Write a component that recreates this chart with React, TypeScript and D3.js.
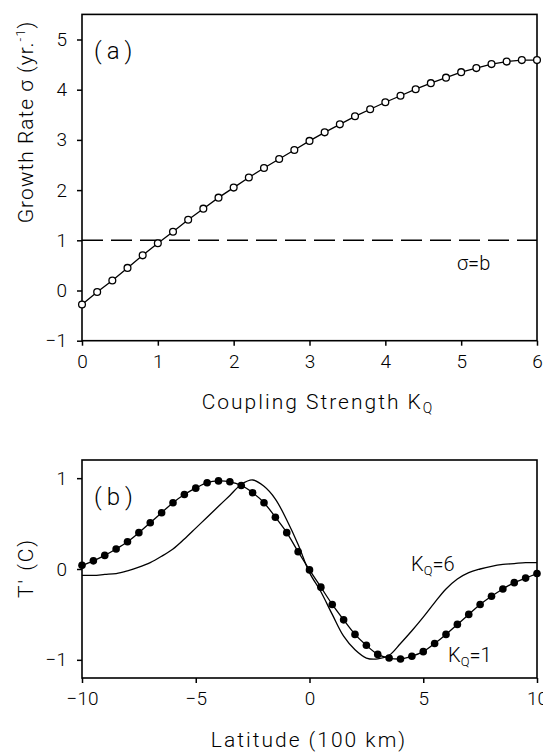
import React, { useEffect, useRef } from 'react';
import * as d3 from 'd3';

// panel (a): growth rate vs coupling strength
const couplingK = d3.range(0, 6.01, 0.2).map(v => +v.toFixed(1));
const growthRate = [
  -0.28, -0.03, 0.2, 0.45, 0.7, 0.94, 1.17, 1.41, 1.63, 1.85, 2.05,
  2.25, 2.44, 2.62, 2.8, 2.98, 3.15, 3.31, 3.47, 3.61, 3.75,
  3.88, 4.01, 4.13, 4.24, 4.35, 4.43, 4.51, 4.56, 4.59, 4.59,
];
const growthRef = 1; // sigma = b
const aTicksX = [0, 1, 2, 3, 4, 5, 6];
const aTicksY = [-1, 0, 1, 2, 3, 4, 5];

// panel (b): temperature anomaly vs latitude
const latitude = d3.range(-10, 10.01, 0.5).map(v => +v.toFixed(1));
const tempK1 = [
  0.04, 0.09, 0.15, 0.22, 0.3, 0.4, 0.51, 0.62, 0.73, 0.82, 0.89,
  0.95, 0.97, 0.96, 0.92, 0.84, 0.73, 0.57, 0.4, 0.19, -0.01,
  -0.2, -0.39, -0.56, -0.72, -0.84, -0.94, -0.98, -0.99, -0.96, -0.91,
  -0.82, -0.72, -0.61, -0.5, -0.39, -0.3, -0.22, -0.15, -0.1, -0.05,
];
const tempK6 = [
  -0.07, -0.07, -0.06, -0.05, -0.02, 0.02, 0.07, 0.14, 0.22, 0.33, 0.45,
  0.57, 0.69, 0.81, 0.93, 0.98, 0.91, 0.77, 0.54, 0.27, -0.04,
  -0.25, -0.5, -0.74, -0.89, -0.98, -0.99, -0.95, -0.82, -0.68, -0.53,
  -0.37, -0.22, -0.11, -0.04, 0.0, 0.03, 0.05, 0.06, 0.07, 0.07,
];
const bTicksX = [-10, -5, 0, 5, 10];
const bTicksY = [-1, 0, 1];

const FONT = 'Roboto, "Liberation Sans", sans-serif';

export default function App() {
  const ref = useRef<SVGSVGElement>(null);

  useEffect(() => {
    const svg = d3.select(ref.current);
    svg.selectAll('*').remove();

    const left = 82, right = 537;

    const drawAxes = (g: any, x: any, y: any, tx: number[], ty: number[], top: number, bottom: number) => {
      g.append('rect')
        .attr('x', left).attr('y', top)
        .attr('width', right - left).attr('height', bottom - top)
        .attr('fill', 'none').attr('stroke', '#000').attr('stroke-width', 1.6);
      const ax = g.append('g').attr('transform', `translate(0,${bottom})`)
        .call(d3.axisBottom(x).tickValues(tx).tickSize(5).tickPadding(9).tickFormat(d3.format('d')));
      const ay = g.append('g').attr('transform', `translate(${left},0)`)
        .call(d3.axisLeft(y).tickValues(ty).tickSize(5).tickPadding(10).tickFormat(d3.format('d')));
      [ax, ay].forEach(a => {
        a.select('.domain').remove();
        a.selectAll('line').attr('stroke-width', 1.5);
        a.selectAll('text').attr('font-size', 19).attr('font-weight', 300)
          .attr('font-family', FONT).attr('fill', '#000');
      });
    };

    const label = (g: any, size: number, spacing = 0) =>
      g.append('text').attr('font-size', size).attr('letter-spacing', spacing)
        .attr('font-weight', 300).attr('font-family', FONT);

    // ----- panel (a)
    const xa = d3.scaleLinear().domain([0, 6]).range([left, right]);
    const ya = d3.scaleLinear().domain([-1, 5.5]).range([340.7, 14.4]);
    const ga = svg.append('g');
    drawAxes(ga, xa, ya, aTicksX, aTicksY, 14.4, 340.7);

    ga.append('line')
      .attr('x1', left).attr('x2', right)
      .attr('y1', ya(growthRef)).attr('y2', ya(growthRef))
      .attr('stroke', '#000').attr('stroke-width', 1.4).attr('stroke-dasharray', '21,8');

    const lineA = d3.line<number>().x((_, i) => xa(couplingK[i])).y(d => ya(d));
    ga.append('path').attr('d', lineA(growthRate)).attr('fill', 'none').attr('stroke', '#000').attr('stroke-width', 1.3);
    ga.selectAll('circle').data(growthRate).join('circle')
      .attr('cx', (_, i) => xa(couplingK[i])).attr('cy', d => ya(d)).attr('r', 3.4)
      .attr('fill', '#fff').attr('stroke', '#000').attr('stroke-width', 1.3);

    label(ga, 24, 5).attr('x', 94).attr('y', 59).text('(a)');
    label(ga, 20).attr('x', 457).attr('y', 270).text('σ=b');

    const xl = label(ga, 21, 2).attr('x', 318).attr('y', 409).attr('text-anchor', 'middle');
    xl.append('tspan').text('Coupling Strength K');
    xl.append('tspan').attr('font-size', 14).attr('dy', 4).text('Q');

    const yl = label(ga, 21, 1).attr('transform', 'translate(33,122) rotate(-90)').attr('text-anchor', 'middle');
    yl.append('tspan').text('Growth Rate σ (yr.');
    yl.append('tspan').attr('font-size', 13).attr('dy', -8).text('-1');
    yl.append('tspan').attr('dy', 8).text(')');

    // ----- panel (b)
    const xb = d3.scaleLinear().domain([-10, 10]).range([left, right]);
    const yb = d3.scaleLinear().domain([-1.2, 1.2]).range([678, 460]);
    const gb = svg.append('g');
    drawAxes(gb, xb, yb, bTicksX, bTicksY, 460, 678);

    const lineB = d3.line<number>().x((_, i) => xb(latitude[i])).y(d => yb(d)).curve(d3.curveCatmullRom);
    gb.append('path').attr('d', lineB(tempK6)).attr('fill', 'none').attr('stroke', '#000').attr('stroke-width', 1.3);
    gb.append('path').attr('d', lineB(tempK1)).attr('fill', 'none').attr('stroke', '#000').attr('stroke-width', 1.3);
    gb.selectAll('circle').data(tempK1).join('circle')
      .attr('cx', (_, i) => xb(latitude[i])).attr('cy', d => yb(d)).attr('r', 3.8).attr('fill', '#000');

    label(gb, 24, 5).attr('x', 94).attr('y', 505).text('(b)');

    const k6 = label(gb, 20).attr('x', 411).attr('y', 571);
    k6.append('tspan').text('K');
    k6.append('tspan').attr('font-size', 13).attr('dy', 4).text('Q');
    k6.append('tspan').attr('dy', -4).text('=6');

    const k1 = label(gb, 20).attr('x', 448).attr('y', 662);
    k1.append('tspan').text('K');
    k1.append('tspan').attr('font-size', 13).attr('dy', 4).text('Q');
    k1.append('tspan').attr('dy', -4).text('=1');

    label(gb, 21, 2).attr('x', 309).attr('y', 747).attr('text-anchor', 'middle').text('Latitude (100 km)');
    label(gb, 21, 2).attr('transform', 'translate(33,568) rotate(-90)').attr('text-anchor', 'middle').text("T' (C)");
  }, []);

  return (
    <svg ref={ref} width={543} height={753}
      style={{ position: 'absolute', left: 0, top: 0, background: '#fff' }} />
  );
}
